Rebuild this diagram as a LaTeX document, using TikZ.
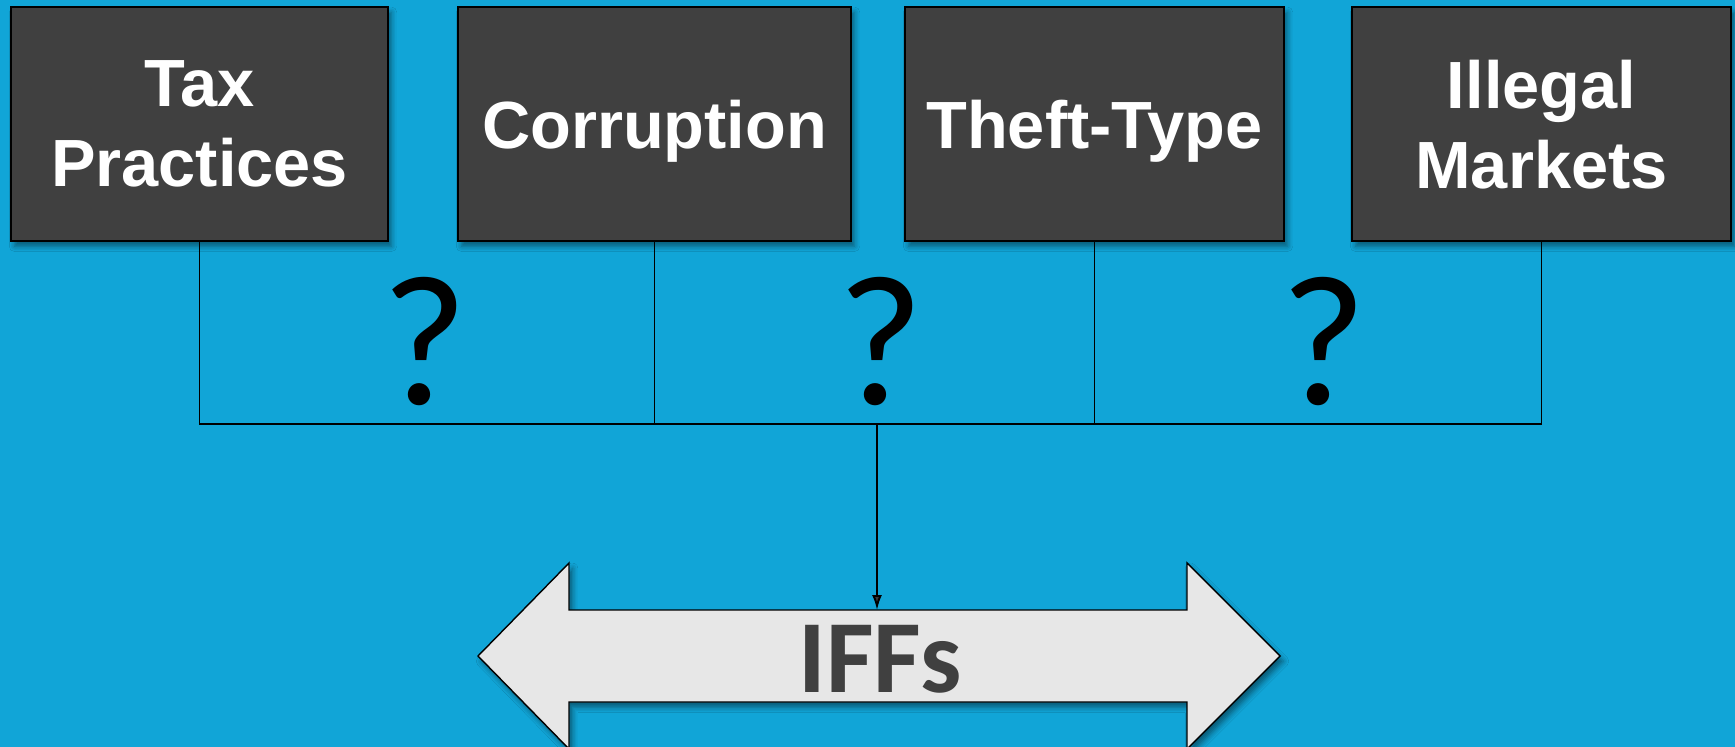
\documentclass[tikz,border=0pt]{standalone}
\usepackage{fontspec}
\setmainfont{Liberation Sans}
\newfontfamily\qfont{Carlito}
\usetikzlibrary{arrows.meta,shadows.blur,positioning}
\definecolor{bgblue}{RGB}{17,165,215}
\definecolor{boxgray}{RGB}{64,64,64}
\definecolor{arrowgray}{RGB}{231,231,231}
\tikzset{
  cause/.style={draw=black,line width=1.1pt,fill=boxgray,text=white,align=center,
    minimum height=4.68cm,inner sep=0pt,text depth=0pt,
    font=\bfseries\fontsize{38}{45.5}\selectfont,
    blur shadow={shadow xshift=2pt,shadow yshift=-3pt,shadow blur radius=3pt,shadow opacity=45}},
  link/.style={line width=1.1pt},
  qmark/.style={anchor=base,inner sep=0pt,font=\qfont\fontsize{106}{106}\selectfont},
  flowarrow/.style={draw=black,line width=0.8pt,fill=arrowgray,
    blur shadow={shadow xshift=2pt,shadow yshift=-3pt,shadow blur radius=3pt,shadow opacity=45}}
}
\begin{document}
\begin{tikzpicture}[x=0.02cm,y=-0.02cm]
  \fill[bgblue] (0,0) rectangle (1735,747);
  \useasboundingbox (0,0) rectangle (1735,747);
  % the four kinds of flow
  \node[cause,minimum width=7.54cm,text depth=-0.06cm] (tax) at (199.5,124) {Tax\\Practices};
  \node[cause,minimum width=7.86cm] (corr) at (654.5,124) {Corruption};
  \node[cause,minimum width=7.58cm] (theft) at (1094.5,124) {Theft-Type};
  \node[cause,minimum width=7.58cm,text depth=-0.06cm] (illegal) at (1541.5,124) {Illegal\\Markets};
  % the double arrow
  \draw[flowarrow] (478,656) -- (569,563) -- (569,610) -- (1187,610) -- (1187,563)
    -- (1280,656) -- (1187,749) -- (1187,702) -- (569,702) -- (569,749) -- cycle;
  \node[anchor=base,inner sep=0pt,text=boxgray,font=\qfont\bfseries\fontsize{59}{59}\selectfont]
    (iffs) at (880,692) {IFFs};
  \coordinate (hub) at (877,424);
  \coordinate (bar) at (877,610);
  % brackets
  \draw[link] (tax.south) |- (hub);
  \draw[link] (illegal.south) |- (hub);
  \draw[link] (corr.south) -- (corr.south |- hub);
  \draw[link] (theft.south) -- (theft.south |- hub);
  \draw[link,-{Latex[length=0.3cm,width=0.2cm]}] (hub) -- (bar);
  \node[qmark] (q1) at (425,404) {?};
  \node[qmark] (q2) at (881,404) {?};
  \node[qmark] (q3) at (1324,404) {?};
\end{tikzpicture}
\end{document}
